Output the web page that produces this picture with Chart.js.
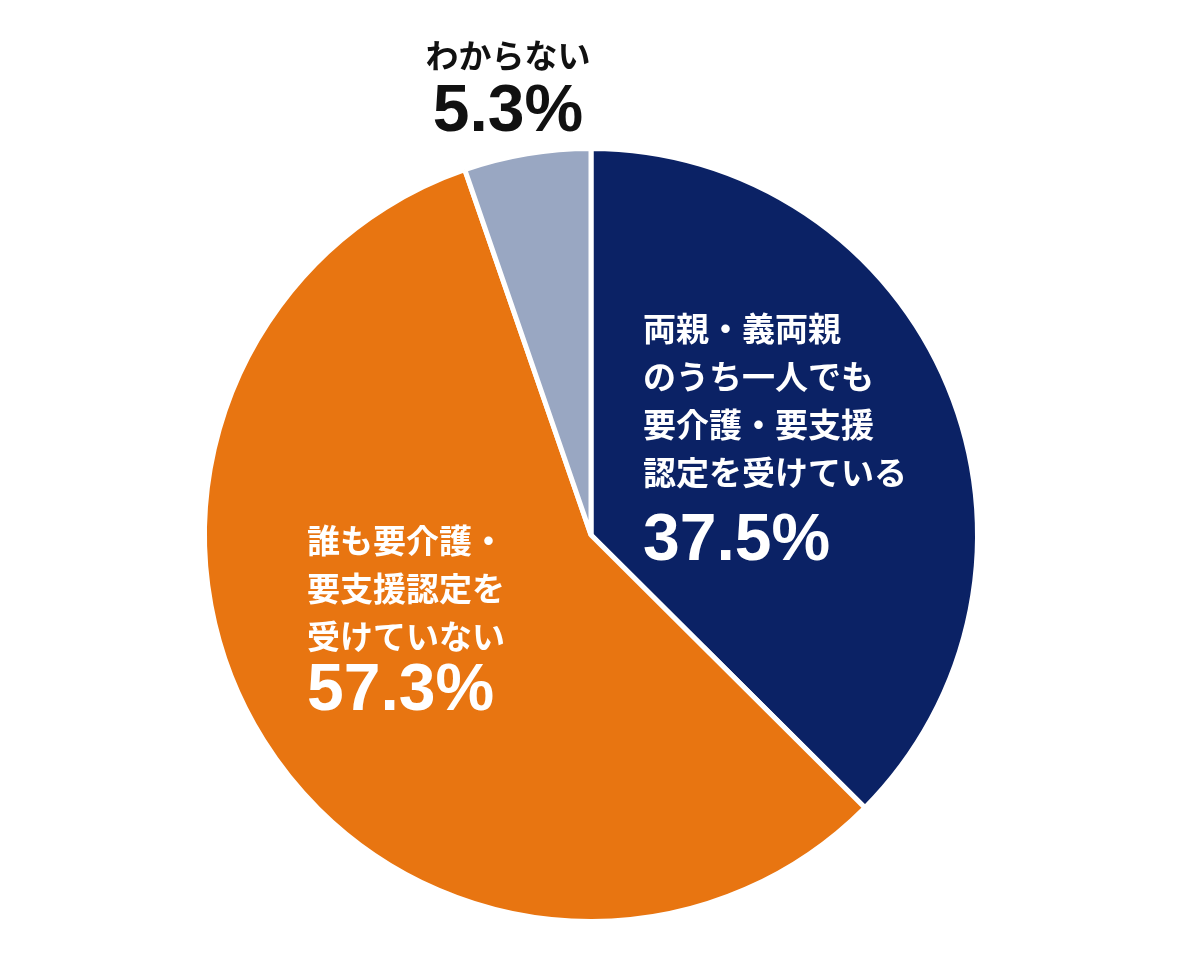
<!DOCTYPE html>
<html>
<head>
<meta charset="utf-8">
<script src="https://cdn.jsdelivr.net/npm/chart.js@4"></script>
<style>
  html, body { margin: 0; padding: 0; background: #fff; }
  canvas { display: block; }
</style>
</head>
<body>
<canvas id="myChart" width="1183" height="956"></canvas>
<script>
// chart data
const categories = [
    ['両親・義両親', 'のうち一人でも', '要介護・要支援', '認定を受けている'],
    ['誰も要介護・', '要支援認定を', '受けていない'],
    ['わからない']
];
const shares = [37.5, 57.3, 5.3];
const colors = ['#0b2265', '#e87511', '#99a7c2'];

const FONT = '"Noto Sans CJK JP", "Liberation Sans", sans-serif';

// label placement per slice (x, first line y, line height, percent y, colour, align)
const labelSpots = [
    { x: 643, y: 328, lh: 48, py: 542, color: '#fff', align: 'left' },
    { x: 307, y: 540, lh: 48, py: 692, color: '#fff', align: 'left' },
    { x: 508, y: 55, lh: 48, py: 113, color: '#111', align: 'center' }
];

const labelPlugin = {
    id: 'labels',
    afterDraw(chart) {
        const c = chart.ctx;
        c.save();
        c.textBaseline = 'middle';
        labelSpots.forEach((s, i) => {
            c.fillStyle = s.color;
            c.textAlign = s.align;
            c.font = 'bold 33px ' + FONT;
            categories[i].forEach((line, j) => c.fillText(line, s.x, s.y + j * s.lh));
            c.font = 'bold 66px "Liberation Sans", Arial, sans-serif';
            c.fillText(shares[i].toFixed(1) + '%', s.x, s.py);
        });
        c.restore();
    }
};

new Chart(document.getElementById('myChart').getContext('2d'), {
    type: 'pie',
    data: {
        labels: categories.map(l => l.join('')),
        datasets: [{
            data: shares,
            backgroundColor: colors,
            borderColor: '#ffffff',
            borderWidth: 5
        }]
    },
    options: {
        responsive: false,
        animation: false,
        layout: { padding: { top: 146, bottom: 32, left: 202, right: 203 } },
        plugins: {
            legend: { display: false },
            tooltip: { enabled: false }
        }
    },
    plugins: [labelPlugin]
});
</script>
</body>
</html>
